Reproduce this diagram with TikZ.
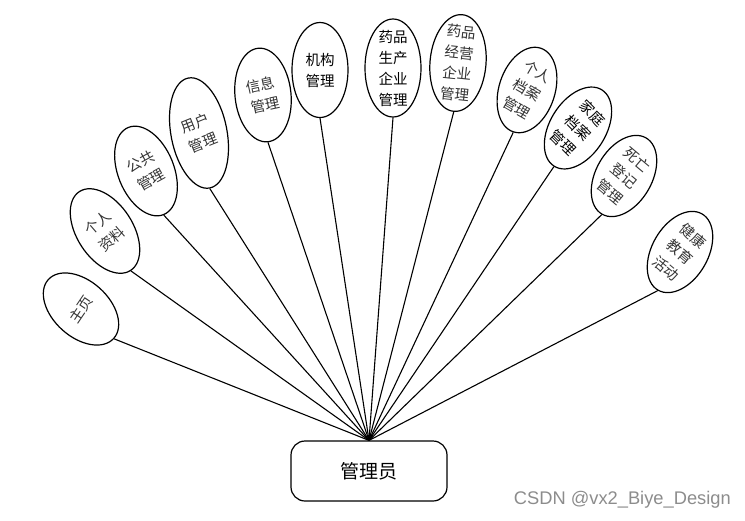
\documentclass[tikz,border=0pt]{standalone}
\usepackage{fontspec}
\newfontfamily\cjk{Noto Sans CJK SC}
\newfontfamily\wmfont{Liberation Sans}
\usepackage{tikz}
\usetikzlibrary{shapes.geometric, positioning}
\tikzset{
  ell/.style  = {ellipse, draw, fill=white, line width=1.2pt,
                 minimum width=56pt, inner sep=0pt},
  lbl/.style  = {align=center, inner sep=0pt,
                 font=\cjk\fontsize{14.5}{21}\selectfont},
  link/.style = {draw, line width=1.1pt},
  rootbox/.style = {draw, line width=1.2pt, rounded corners=14pt, fill=white,
                 minimum width=156pt, minimum height=60pt,
                 font=\cjk\fontsize{19}{22}\selectfont},
  wm/.style   = {text=black!45, inner sep=0pt,
                 font=\wmfont\fontsize{18.3}{20}\selectfont},
}

\begin{document}
\begin{tikzpicture}[x=1pt, y=-1pt]
  \useasboundingbox (0,0) rectangle (745,520);
  % administrator
  \node[rootbox] (root) at (369,471) {管理员};
  % function ellipses: name/x/y/ellipse angle/text angle/height/colour/label
  \foreach \nm/\x/\y/\re/\rt/\hh/\cl/\lab in {
      zy/81/309/48/56/88/black!80/{主页},
      grzl/105/231/33/41/94/black!80/{个人\\资料},
      gggl/146/171/22/29/94/black!80/{公共\\管理},
      yhgl/199/133/11/22/112/black!80/{用户\\管理},
      xxgl/263/95/6/12/94/black!80/{信息\\管理},
      jggl/320/70/0/0/95/black/{机构\\管理},
      ypsc/393/68/0/0/98/black/{药品\\生产\\企业\\管理},
      ypjy/458/63/-5/-6/97/black!80/{药品\\经营\\企业\\管理},
      grda/527/90/-18/-30/88/black!80/{个人\\档案\\管理},
      jtda/578/128/-32/-45/90/black/{家庭\\档案\\管理},
      swdj/624/176/-30/-40/88/black!80/{死亡\\登记\\管理},
      jkjy/680/252/-30/-40/88/black!80/{健康\\教育\\活动}} {
    \node[ell, minimum height=\hh pt, rotate=\re] (\nm) at (\x,\y) {};
    \node[lbl, text=\cl, rotate=\rt] (\nm-t) at (\nm.center) {\lab};
    \draw[link] (root.north) -- (\nm.south);
  }
  \node[wm, anchor=east] (mark) at (731,500) {CSDN @vx2\_Biye\_Design};
\end{tikzpicture}
\end{document}
